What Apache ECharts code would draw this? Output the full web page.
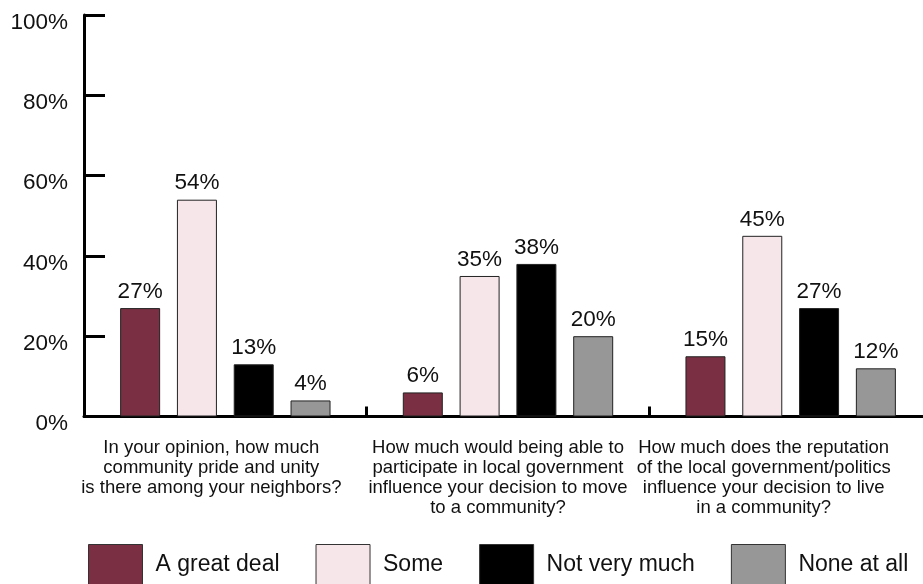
<!DOCTYPE html>
<html>
<head>
<meta charset="utf-8">
<script src="https://cdn.jsdelivr.net/npm/echarts@6/dist/echarts.min.js"></script>
<style>
  html, body { margin: 0; padding: 0; background: #fff; overflow: hidden; }
  /* canvas is a bit wider than the window: the x axis runs off the right edge */
  #chart { width: 932px; height: 584px; }
</style>
</head>
<body>
<div id="chart"></div>
<script>
// Survey questions (x categories)
const categories = [
  'In your opinion, how much\ncommunity pride and unity\nis there among your neighbors?',
  'How much would being able to\nparticipate in local government\ninfluence your decision to move\nto a community?',
  'How much does the reputation\nof the local government/politics\ninfluence your decision to live\nin a community?'
];

// Response shares in percent
const greatDeal   = [27, 6, 15];
const some        = [54, 35, 45];
const notVeryMuch = [13, 38, 27];
const noneAtAll   = [4, 20, 12];

const seriesNames = ['A great deal', 'Some', 'Not very much', 'None at all'];
const colors = ['#7a3042', '#f6e6ea', '#000000', '#979797'];

const yTicks = { min: 0, max: 100, interval: 20 };

const FONT = 'Liberation Sans, Arial, sans-serif';

// question captions sit a little left of their bar groups
const captionShiftLeft = [14, 10, 27];

function barSeries(name, data, color) {
  return {
    name: name,
    type: 'bar',
    data: data,
    barWidth: 40,
    barGap: '42%',
    itemStyle: { color: color, borderColor: '#222', borderWidth: 1 },
    label: {
      show: true,
      position: 'top',
      distance: 5,
      formatter: '{c}%',
      fontFamily: FONT,
      fontSize: 22.5,
      color: '#111'
    }
  };
}

const chart = echarts.init(document.getElementById('chart'), null, { renderer: 'canvas' });
chart.setOption({
  animation: false,
  backgroundColor: '#ffffff',
  color: colors,
  grid: {
    left: 84, right: 0, top: 15, height: 401.5,
    containLabel: false,
    outerBoundsMode: 'none'
  },
  legend: {
    data: seriesNames.map((n, i) => ({
      name: n,
      icon: 'rect',
      itemStyle: { color: colors[i], borderColor: '#333', borderWidth: 1 }
    })),
    left: 88,
    top: 544,
    itemWidth: 54,
    itemHeight: 40,
    itemGap: 36,
    padding: 0,
    textStyle: { fontFamily: FONT, fontSize: 23, color: '#111', padding: [0, 0, 0, 8] }
  },
  xAxis: {
    type: 'category',
    data: categories.map((c, i) => ({
      value: c,
      textStyle: { padding: [0, captionShiftLeft[i] * 2, 0, 0] }
    })),
    axisLine: { lineStyle: { color: '#000', width: 3 } },
    axisTick: { show: true, inside: true, length: 10, lineStyle: { color: '#000', width: 3 } },
    axisLabel: {
      fontFamily: FONT,
      fontSize: 18.5,
      lineHeight: 20,
      color: '#111',
      margin: 21,
      interval: 0,
      align: 'center'
    },
    splitLine: { show: false }
  },
  yAxis: {
    type: 'value',
    min: yTicks.min,
    max: yTicks.max,
    interval: yTicks.interval,
    axisLine: { show: true, lineStyle: { color: '#000', width: 3 } },
    axisTick: { show: true, inside: true, length: 21, lineStyle: { color: '#000', width: 3 } },
    axisLabel: {
      formatter: '{value}%',
      fontFamily: FONT,
      fontSize: 22.5,
      color: '#111',
      margin: 16,
      verticalAlign: 'top',
      lineHeight: 15
    },
    splitLine: { show: false }
  },
  series: [
    barSeries(seriesNames[0], greatDeal, colors[0]),
    barSeries(seriesNames[1], some, colors[1]),
    barSeries(seriesNames[2], notVeryMuch, colors[2]),
    barSeries(seriesNames[3], noneAtAll, colors[3])
  ]
});
</script>
</body>
</html>
